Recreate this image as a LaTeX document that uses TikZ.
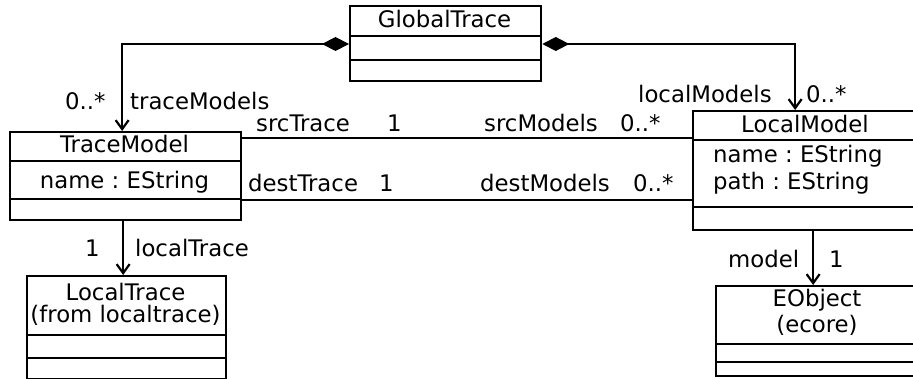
\documentclass[tikz,border=0pt]{standalone}
\usepackage{fontspec}
\setmainfont{DejaVu Sans}
\usetikzlibrary{arrows.meta,calc}
\frenchspacing
\begin{document}
\begin{tikzpicture}[x=1pt,y=-1pt,
  cls/.style={draw, line width=2.3pt, inner sep=0pt, anchor=north west},
  txt/.style={font=\fontsize{22.8}{27}\selectfont, inner sep=0pt},
  lbl/.style={txt, anchor=base west},
  ctr/.style={txt, anchor=base},
  conn/.style={line width=2.2pt},
  divd/.style={line width=2.3pt},
  barb/.style={-{Straight Barb[length=9pt,width=13pt,line width=2.2pt]}},
  comp/.style={{Diamond[length=27pt,width=14pt]}-{Straight Barb[length=9pt,width=13pt,line width=2.2pt]}}]
\useasboundingbox (0,0) rectangle (913,379);
\clip (0,0) rectangle (913,379);

% classes
\node[cls, minimum width=191pt, minimum height=75pt] (gt) at (349,5) {};
\draw[divd] ($(gt.north west)+(0,31)$) -- ($(gt.north east)+(0,31)$);
\draw[divd] ($(gt.north west)+(0,55)$) -- ($(gt.north east)+(0,55)$);
\node[ctr] (gtname) at (444.5,28) {GlobalTrace};

\node[cls, minimum width=231pt, minimum height=88pt] (tm) at (9,131) {};
\draw[divd] ($(tm.north west)+(0,30)$) -- ($(tm.north east)+(0,30)$);
\draw[divd] ($(tm.north west)+(0,68)$) -- ($(tm.north east)+(0,68)$);
\node[ctr] (tmname) at (124.5,153) {TraceModel};
\node[ctr] (tmattr) at (124.5,189) {name : EString};

\node[cls, minimum width=199pt, minimum height=103pt] (lt) at (26,275) {};
\draw[divd] ($(lt.north west)+(0,60)$) -- ($(lt.north east)+(0,60)$);
\draw[divd] ($(lt.north west)+(0,83)$) -- ($(lt.north east)+(0,83)$);
\node[ctr] (ltname) at (125.5,301) {LocalTrace};
\node[ctr] (ltpkg) at (125.5,323) {(from localtrace)};

\node[cls, minimum width=230pt, minimum height=119pt] (lm) at (692,110) {};
\draw[divd] ($(lm.north west)+(0,30)$) -- ($(lm.north east)+(0,30)$);
\draw[divd] ($(lm.north west)+(0,97)$) -- ($(lm.north east)+(0,97)$);
\node[ctr] (lmname) at (805,133) {LocalModel};
\node[lbl] (lmattr1) at (713,163) {name : EString};
\node[lbl] (lmattr2) at (713,190) {path : EString};

\node[cls, minimum width=210pt, minimum height=90pt] (eo) at (715,285) {};
\draw[divd] ($(eo.north west)+(0,59)$) -- ($(eo.north east)+(0,59)$);
\draw[divd] ($(eo.north west)+(0,77)$) -- ($(eo.north east)+(0,77)$);
\node[ctr] (eoname) at (817,307) {EObject};
\node[ctr] (eopkg) at (817,333) {(ecore)};

% compositions
\draw[conn, comp] ($(gt.north west)+(0,39)$) -| ([xshift=-3.5pt]tm.north);
\draw[conn, comp] ($(gt.north east)+(0,39)$) -| ([xshift=-13pt]lm.north);

% associations
\draw[conn] ([yshift=-7pt]tm.north east) -- ([yshift=-28pt]lm.north west);
\draw[conn] ([yshift=-69pt]tm.north east) -- ([yshift=-90pt]lm.north west);

% directed associations
\draw[conn, barb] ([xshift=-2.5pt]tm.south) -- ([xshift=-3.5pt]lt.north);
\draw[conn, barb] ([xshift=-3pt]lm.south -| eo.north) ++(-5pt,0) coordinate (lmout) -- (lmout |- eo.north);

% labels
\node[lbl] (l1) at (65,110) {0..*};
\node[lbl] (l2) at (130,110) {traceModels};
\node[lbl] (l3) at (638,103) {localModels};
\node[lbl] (l4) at (806,103) {0..*};
\node[lbl] (l5) at (256,132) {srcTrace};
\node[lbl] (l6) at (387,132) {1};
\node[lbl] (l7) at (484,132) {srcModels};
\node[lbl] (l8) at (620,132) {0..*};
\node[lbl] (l9) at (248,192) {destTrace};
\node[lbl] (l10) at (379,192) {1};
\node[lbl] (l11) at (480,192) {destModels};
\node[lbl] (l12) at (633,192) {0..*};
\node[lbl] (l13) at (85,257) {1};
\node[lbl] (l14) at (135,257) {localTrace};
\node[lbl] (l15) at (728,268) {model};
\node[lbl] (l16) at (829,268) {1};
\end{tikzpicture}
\end{document}
